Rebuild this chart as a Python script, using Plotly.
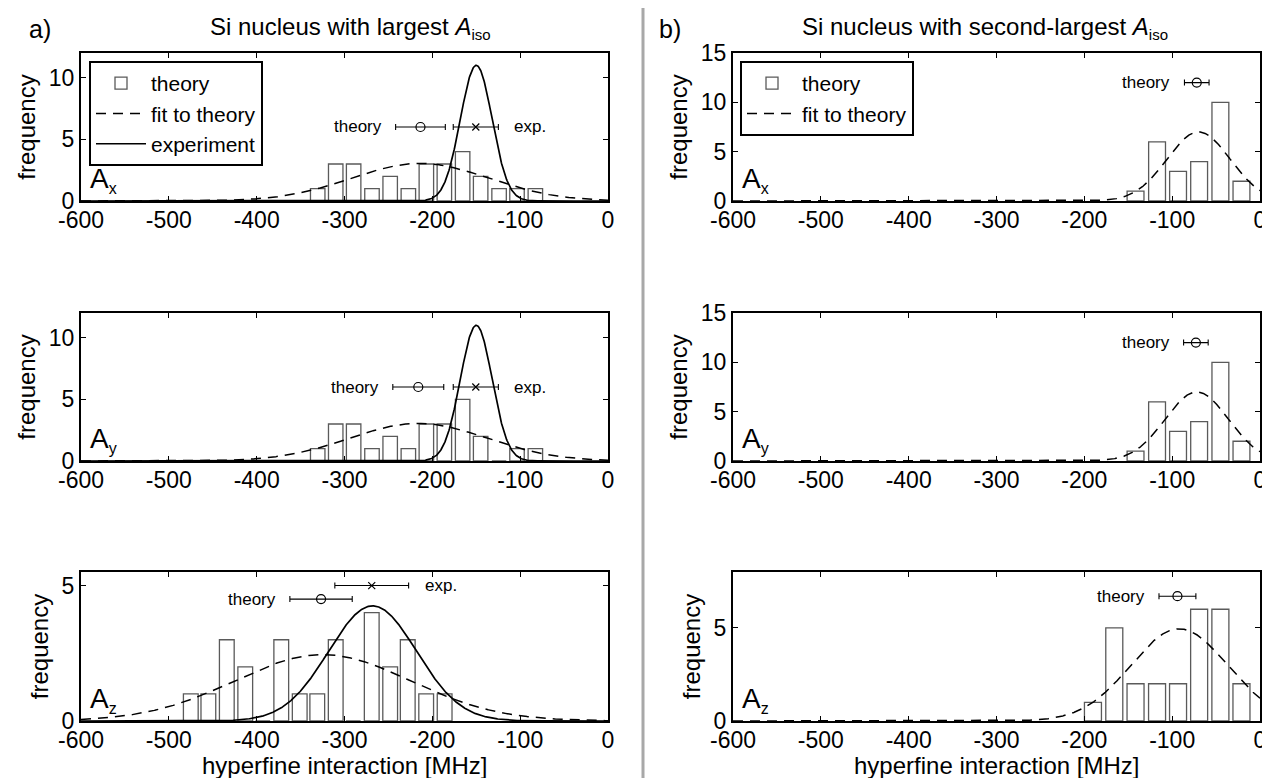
import numpy as np
import plotly.graph_objects as go

FONT = "Liberation Sans, Arial, Helvetica, sans-serif"

# ---------------- data ----------------
x_ticks = [-600, -500, -400, -300, -200, -100, 0]
x_tick_labels = ["-600", "-500", "-400", "-300", "-200", "-100", "0"]

# a) Si nucleus with largest A_iso : histogram of theory values
a_xy_centers = [-330.5, -310, -289.6, -268.7, -248, -227.3, -206.8, -186.3, -165.5, -145, -124, -103.6, -82.7]
ax_counts = [1, 3, 3, 1, 2, 1, 3, 3, 4, 2, 1, 1, 1]
ay_counts = [1, 3, 3, 1, 2, 1, 3, 3, 5, 2, 0, 1, 1]
az_centers = [-475, -455, -434, -413, -393, -372, -351, -331, -310, -290, -269, -248, -228, -207, -186]
az_counts = [1, 1, 3, 2, 0, 3, 1, 1, 3, 0, 4, 2, 3, 1, 1]

# b) Si nucleus with second-largest A_iso
b_xy_centers = [-141.7, -117.2, -93.3, -69.3, -45.1, -21.1]
bx_counts = [1, 6, 3, 4, 10, 2]
by_counts = [1, 6, 3, 4, 10, 2]
bz_centers = [-190.2, -165.9, -141.7, -117.2, -93.3, -69.3, -45.1, -21.1]
bz_counts = [1, 5, 2, 2, 2, 6, 6, 2]

# Gaussian "fit to theory" parameters, panels [Ax, Ay, Az, Bx, By, Bz]
fit_center = [-214, -216, -325, -70, -72, -92]
fit_sigma = [78, 78, 100, 36, 36, 55]
fit_amp = [3.05, 3.05, 2.45, 7.0, 7.0, 4.95]

# Gaussian "experiment" parameters, panels [Ax, Ay, Az]
exp_center = [-150, -150, -268]
exp_sigma = [18, 18, 50]
exp_amp = [11, 11, 4.25]

# mean values with error bars
theory_mean = [-213.5, -216, -326.7, -72, -73, -94]
theory_err = [28.3, 29, 35.5, 14, 14, 21]
theory_y = [6, 6, 4.5, 12, 12, 6.7]
exp_mean = [-150.5, -150.5, -269]
exp_err = [25.7, 25.7, 42]
exp_y = [6, 6, 5.0]

components = ["x", "y", "z", "x", "y", "z"]
y_ranges = [[0, 12], [0, 12], [0, 5.5], [0, 15], [0, 15], [0, 8]]
y_ticks = [[0, 5, 10], [0, 5, 10], [0, 5], [0, 5, 10, 15], [0, 5, 10, 15], [0, 5]]

# ---------------- layout geometry ----------------
W, H = 1270, 778
x_dom_px = [(73, 600), (725, 1252)]
y_dom_px = [(45, 193), (305, 453), (564, 713)]

hist_centers = [a_xy_centers, a_xy_centers, az_centers, b_xy_centers, b_xy_centers, bz_centers]
hist_counts = [ax_counts, ay_counts, az_counts, bx_counts, by_counts, bz_counts]

fig = go.Figure()
xgrid = np.linspace(-600, 0, 1201)

for i in range(6):
    ax_id = "" if i == 0 else str(i + 1)
    xref, yref = "x" + ax_id, "y" + ax_id
    col = 0 if i < 3 else 1
    row = i % 3
    legend_name = "legend" if i == 0 else ("legend2" if i == 3 else None)
    show = legend_name is not None

    centers = hist_centers[i]
    bw = 0.8 * float(np.median(np.diff(centers)))
    fig.add_trace(go.Bar(
        x=centers, y=hist_counts[i], width=[bw] * len(centers),
        marker=dict(color="white", line=dict(color="#5a5a5a", width=1.3)),
        name="theory", showlegend=show, legend=legend_name or "legend",
        xaxis=xref, yaxis=yref))

    fit_y = fit_amp[i] * np.exp(-(xgrid - fit_center[i]) ** 2 / (2 * fit_sigma[i] ** 2))
    fig.add_trace(go.Scatter(
        x=xgrid, y=fit_y, mode="lines",
        line=dict(color="black", width=1.5, dash="10px,7px"),
        name="fit to theory", showlegend=show, legend=legend_name or "legend",
        xaxis=xref, yaxis=yref))

    if col == 0:
        e_y = exp_amp[i] * np.exp(-(xgrid - exp_center[i]) ** 2 / (2 * exp_sigma[i] ** 2))
        fig.add_trace(go.Scatter(
            x=xgrid, y=e_y, mode="lines",
            line=dict(color="black", width=1.7),
            name="experiment", showlegend=show, legend=legend_name or "legend",
            xaxis=xref, yaxis=yref))

    # theory mean with error bar
    fig.add_trace(go.Scatter(
        x=[theory_mean[i]], y=[theory_y[i]], mode="markers",
        marker=dict(symbol="circle-open", size=9, color="black", line=dict(width=1.2)),
        error_x=dict(type="data", array=[theory_err[i]], color="black", thickness=1.1, width=3),
        showlegend=False, xaxis=xref, yaxis=yref))
    fig.add_annotation(x=theory_mean[i] - theory_err[i], y=theory_y[i], xref=xref, yref=yref,
                       text="theory", showarrow=False, xanchor="right", yanchor="middle",
                       xshift=-12, font=dict(family=FONT, size=17, color="black"))
    if col == 0:
        fig.add_trace(go.Scatter(
            x=[exp_mean[i]], y=[exp_y[i]], mode="markers",
            marker=dict(symbol="x-thin-open", size=7, color="black", line=dict(width=1.2, color="black")),
            error_x=dict(type="data", array=[exp_err[i]], color="black", thickness=1.1, width=3),
            showlegend=False, xaxis=xref, yaxis=yref))
        fig.add_annotation(x=exp_mean[i] + exp_err[i], y=exp_y[i], xref=xref, yref=yref,
                           text="exp.", showarrow=False, xanchor="left", yanchor="middle",
                           xshift=14, font=dict(family=FONT, size=17, color="black"))

    # component label A_x / A_y / A_z
    fig.add_annotation(x=0.014, y=0.0, xref=xref + " domain", yref=yref + " domain",
                       text="A<sub><span style='font-size:16px'>" + components[i] + "</span></sub>",
                       showarrow=False, xanchor="left", yanchor="bottom", yshift=2,
                       font=dict(family=FONT, size=28, color="black"))

    x0, x1 = x_dom_px[col]
    yt, yb = y_dom_px[row]
    axis_common = dict(showline=True, linecolor="black", linewidth=2, mirror="ticks",
                       ticks="inside", ticklen=5, tickwidth=1.2, tickcolor="black",
                       showgrid=False, zeroline=False, automargin=False,
                       tickfont=dict(family=FONT, size=23, color="black"))
    xa = dict(axis_common, domain=[x0 / W, x1 / W], range=[-600, 0],
              tickvals=x_ticks, ticktext=x_tick_labels, anchor=yref,
              ticklabelstandoff=-3)
    ya = dict(axis_common, domain=[1 - yb / H, 1 - yt / H], range=y_ranges[i],
              tickvals=y_ticks[i], anchor=xref,
              title=dict(text="frequency", font=dict(family=FONT, size=24, color="black"),
                         standoff=6))
    fig.layout["xaxis" + ax_id] = xa
    fig.layout["yaxis" + ax_id] = ya

    if row == 2:
        fig.add_annotation(x=0.5, y=1 - 757 / H, xref=xref + " domain", yref="paper",
                           text="hyperfine interaction [MHz]", showarrow=False,
                           xanchor="center", yanchor="middle",
                           font=dict(family=FONT, size=24, color="black"))

# titles
SUB_ISO = "<sub><span style='font-size:15px'>iso</span></sub>"
fig.add_annotation(x=19 / W, y=1 - 21 / H, xref="paper", yref="paper", text="a)",
                   showarrow=False, xanchor="left", yanchor="middle",
                   font=dict(family=FONT, size=25, color="black"))
fig.add_annotation(x=342 / W, y=1 - 20 / H, xref="paper", yref="paper",
                   text="Si nucleus with largest <i>A</i>" + SUB_ISO,
                   showarrow=False, xanchor="center", yanchor="middle",
                   font=dict(family=FONT, size=24, color="black"))
fig.add_annotation(x=649 / W, y=1 - 21 / H, xref="paper", yref="paper", text="b)",
                   showarrow=False, xanchor="left", yanchor="middle",
                   font=dict(family=FONT, size=25, color="black"))
fig.add_annotation(x=977 / W, y=1 - 20 / H, xref="paper", yref="paper",
                   text="Si nucleus with second-largest <i>A</i>" + SUB_ISO,
                   showarrow=False, xanchor="center", yanchor="middle",
                   font=dict(family=FONT, size=24, color="black"))

# separator between the two halves
fig.add_shape(type="line", xref="paper", yref="paper", x0=635 / W, x1=635 / W, y0=0, y1=1,
              line=dict(color="#a8a8a8", width=3))

legend_common = dict(bgcolor="white", bordercolor="black", borderwidth=2,
                     font=dict(family=FONT, size=21, color="black"),
                     xanchor="left", yanchor="top", itemwidth=50, tracegroupgap=0,
                     traceorder="normal")
fig.update_layout(
    width=W, height=H, margin=dict(l=0, r=0, t=0, b=0),
    paper_bgcolor="white", plot_bgcolor="white",
    barmode="overlay",
    font=dict(family=FONT, color="black"),
    legend=dict(legend_common, x=81 / W, y=1 - 53 / H),
    legend2=dict(legend_common, x=732 / W, y=1 - 53 / H),
)

fig.write_html("out.html")
